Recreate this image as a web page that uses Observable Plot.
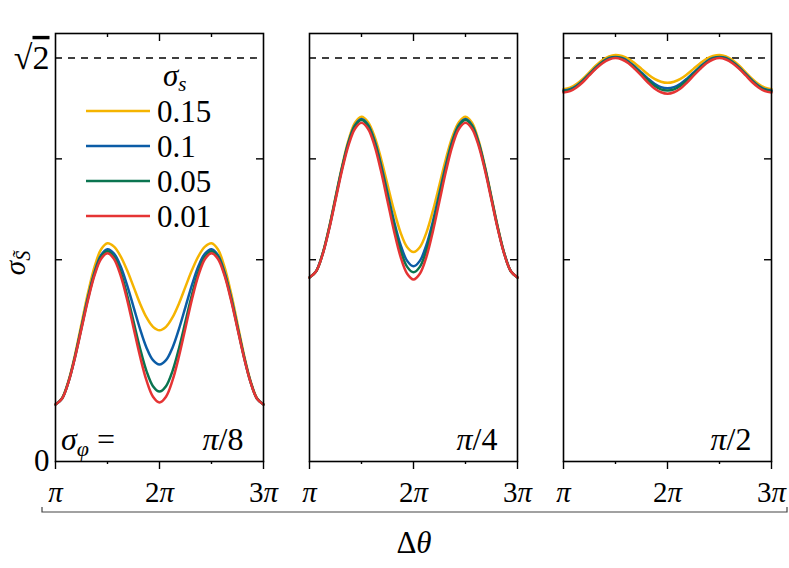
<!DOCTYPE html>
<html><head><meta charset="utf-8">
<script src="https://cdn.jsdelivr.net/npm/d3@7"></script>
<script src="https://cdn.jsdelivr.net/npm/@observablehq/plot@0.6"></script>
<style>body{margin:0;background:#fff} svg{display:block}</style>
</head><body><div id="chart"></div>
<script>
const SQRT2 = Math.SQRT2;
const panels = ["π/8", "π/4", "π/2"];
const seriesNames = ["0.15", "0.1", "0.05", "0.01"];
const seriesColors = ["#F5B400", "#0B5CA6", "#0A7450", "#E53434"];
// Δθ in units of π
const xSamples = [1, 1.0625, 1.125, 1.1875, 1.25, 1.3125, 1.375, 1.4375, 1.5, 1.5625, 1.625, 1.6875, 1.75, 1.8125, 1.875, 1.9375,
  2, 2.0625, 2.125, 2.1875, 2.25, 2.3125, 2.375, 2.4375, 2.5, 2.5625, 2.625, 2.6875, 2.75, 2.8125, 2.875, 2.9375, 3];
const xTicks = [1, 2, 3];
const xTickLabels = ["π", "2π", "3π"];
const xMinorTicks = [1.5, 2.5];
const yTickValues = [0, SQRT2];
const yTickLabels = ["0", "√2"];
const yInnerTicks = [SQRT2 / 2, 3 * SQRT2 / 4];

// σφ = π/8
const p8_015 = [0.200,0.222,0.283,0.374,0.483,0.591,0.682,0.743,0.765,0.753,0.720,0.671,0.613,0.554,0.505,0.472,0.460,0.472,0.505,0.554,0.613,0.671,0.720,0.753,0.765,0.743,0.682,0.591,0.483,0.374,0.283,0.222,0.200];
const p8_010 = [0.200,0.221,0.280,0.368,0.472,0.576,0.664,0.723,0.744,0.729,0.685,0.619,0.542,0.465,0.399,0.355,0.340,0.355,0.399,0.465,0.542,0.619,0.685,0.729,0.744,0.723,0.664,0.576,0.472,0.368,0.280,0.221,0.200];
const p8_005 = [0.200,0.220,0.279,0.366,0.469,0.571,0.658,0.717,0.737,0.718,0.665,0.585,0.491,0.397,0.317,0.264,0.245,0.264,0.317,0.397,0.491,0.585,0.665,0.718,0.737,0.717,0.658,0.571,0.469,0.366,0.279,0.220,0.200];
const p8_001 = [0.200,0.220,0.278,0.364,0.465,0.566,0.652,0.710,0.730,0.710,0.653,0.569,0.469,0.369,0.284,0.227,0.207,0.227,0.284,0.369,0.469,0.569,0.653,0.710,0.730,0.710,0.652,0.566,0.465,0.364,0.278,0.220,0.200];
// σφ = π/4
const p4_015 = [0.645,0.666,0.727,0.819,0.927,1.034,1.126,1.187,1.208,1.190,1.139,1.062,0.971,0.880,0.803,0.752,0.734,0.752,0.803,0.880,0.971,1.062,1.139,1.190,1.208,1.187,1.126,1.034,0.927,0.819,0.727,0.666,0.645];
const p4_010 = [0.645,0.666,0.726,0.816,0.923,1.029,1.119,1.179,1.200,1.180,1.125,1.041,0.942,0.843,0.760,0.704,0.684,0.704,0.760,0.843,0.942,1.041,1.125,1.180,1.200,1.179,1.119,1.029,0.923,0.816,0.726,0.666,0.645];
const p4_005 = [0.645,0.666,0.726,0.815,0.921,1.027,1.116,1.176,1.197,1.177,1.119,1.032,0.930,0.828,0.741,0.683,0.663,0.683,0.741,0.828,0.930,1.032,1.119,1.177,1.197,1.176,1.116,1.027,0.921,0.815,0.726,0.666,0.645];
const p4_001 = [0.645,0.666,0.724,0.812,0.916,1.020,1.108,1.166,1.187,1.166,1.107,1.018,0.913,0.808,0.718,0.659,0.638,0.659,0.718,0.808,0.913,1.018,1.107,1.166,1.187,1.166,1.108,1.020,0.916,0.812,0.724,0.666,0.645];
// σφ = π/2
const p2_015 = [1.305,1.310,1.323,1.342,1.365,1.388,1.407,1.420,1.425,1.421,1.411,1.395,1.376,1.357,1.341,1.331,1.327,1.331,1.341,1.357,1.376,1.395,1.411,1.421,1.425,1.420,1.407,1.388,1.365,1.342,1.323,1.310,1.305];
const p2_010 = [1.300,1.305,1.317,1.336,1.359,1.382,1.401,1.414,1.418,1.414,1.402,1.384,1.363,1.342,1.324,1.312,1.308,1.312,1.324,1.342,1.363,1.384,1.402,1.414,1.418,1.414,1.401,1.382,1.359,1.336,1.317,1.305,1.300];
const p2_005 = [1.297,1.302,1.314,1.334,1.357,1.379,1.399,1.412,1.416,1.412,1.399,1.380,1.358,1.336,1.317,1.304,1.300,1.304,1.317,1.336,1.358,1.380,1.399,1.412,1.416,1.412,1.399,1.379,1.357,1.334,1.314,1.302,1.297];
const p2_001 = [1.293,1.298,1.311,1.330,1.354,1.377,1.396,1.409,1.414,1.409,1.396,1.375,1.352,1.328,1.307,1.294,1.289,1.294,1.307,1.328,1.352,1.375,1.396,1.409,1.414,1.409,1.396,1.377,1.354,1.330,1.311,1.298,1.293];

const table = {
  "π/8": [p8_015, p8_010, p8_005, p8_001],
  "π/4": [p4_015, p4_010, p4_005, p4_001],
  "π/2": [p2_015, p2_010, p2_005, p2_001]
};
const rows = [];
for (const panel of panels) {
  table[panel].forEach((vals, s) => {
    vals.forEach((v, i) => rows.push({panel, series: seriesNames[s], x: xSamples[i], y: v}));
  });
}

const FONT = "Liberation Serif, DejaVu Serif, serif";
const plot = Plot.plot({
  width: 789, height: 568,
  marginLeft: 54, marginRight: 18, marginTop: 33, marginBottom: 107,
  style: {fontFamily: FONT, fontSize: "29px", color: "black", background: "white", overflow: "visible"},
  fx: {domain: panels, paddingInner: 0.1827, paddingOuter: 0, axis: null},
  x: {domain: [1, 3]},
  y: {domain: [0, 1.5]},
  color: {domain: seriesNames, range: seriesColors},
  marks: [
    Plot.ruleY([SQRT2], {stroke: "black", strokeWidth: 1.4, strokeDasharray: "7,6"}),
    Plot.line(rows, {x: "x", y: "y", z: "series", stroke: "series", fx: "panel", curve: "catmull-rom", strokeWidth: 2.5}),
    Plot.frame({stroke: "black", strokeWidth: 1.6}),
    Plot.axisX(xTicks, {label: null, tickSize: 8, tickPadding: 12, strokeWidth: 1.4, tickFormat: d => xTickLabels[xTicks.indexOf(d)], fontSize: 29}),
    Plot.axisX(xMinorTicks, {label: null, tickSize: 3, strokeWidth: 1.4, tickFormat: () => ""}),
    Plot.tickX([2], {x: d => d, insetBottom: 420, strokeWidth: 1.4}),
    Plot.tickX(xMinorTicks, {x: d => d, insetBottom: 424, strokeWidth: 1.4}),
    Plot.tickY(yInnerTicks, {y: d => d, insetRight: 201, strokeWidth: 1.4}),
    Plot.tickY(yInnerTicks, {y: d => d, insetLeft: 201, strokeWidth: 1.4}),
    Plot.axisY(yTickValues, {label: null, tickSize: 0, tickPadding: 6, tickFormat: d => yTickLabels[yTickValues.indexOf(d)], fontSize: 31}),
    Plot.text(panels, {fx: d => d, text: d => d, frameAnchor: "bottom-right", dx: -20, dy: -22, lineAnchor: "middle", fontSize: 32, fill: "black"})
  ]
});
document.getElementById("chart").append(plot);

const svg = d3.select(plot);
// italic π in labels
svg.selectAll("text").each(function() {
  const t = this.textContent;
  if (!t.includes("π")) return;
  const el = d3.select(this);
  el.text("");
  for (const ch of t) {
    el.append("tspan").attr("font-style", ch === "π" ? "italic" : null).text(ch);
  }
});
// √2 with vinculum
svg.selectAll("text").each(function() {
  if (this.textContent !== "√2") return;
  const el = d3.select(this);
  el.text("");
  el.attr("font-size", 34);
  el.append("tspan").text("√");
  el.append("tspan").attr("text-decoration", "overline").text("2");
});

// legend (inside first panel)
const g = svg.append("g").attr("font-family", FONT).attr("fill", "black").attr("text-anchor", "start");
const lt = g.append("text").attr("x", 163).attr("y", 86).attr("font-size", 31);
lt.append("tspan").attr("font-style", "italic").text("σ");
lt.append("tspan").attr("font-style", "italic").attr("font-size", 21).attr("dy", 5).text("s");
seriesNames.forEach((name, i) => {
  const yy = 111 + 35 * i;
  g.append("line").attr("x1", 86).attr("x2", 150).attr("y1", yy).attr("y2", yy)
    .attr("stroke", seriesColors[i]).attr("stroke-width", 2.6);
  g.append("text").attr("x", 157).attr("y", yy + 11).attr("font-size", 31).text(name);
});
// σφ =
const sp = g.append("text").attr("x", 61).attr("y", 450).attr("font-size", 32);
sp.append("tspan").attr("font-style", "italic").text("σ");
sp.append("tspan").attr("font-style", "italic").attr("font-size", 22).attr("dy", 6).text("φ");
sp.append("tspan").attr("dy", -6).text(" =");
// y label
const yl = g.append("text").attr("transform", "translate(25,263) rotate(-90)").attr("text-anchor", "middle").attr("font-size", 29);
yl.append("tspan").attr("font-style", "italic").text("σ");
yl.append("tspan").attr("font-style", "italic").attr("font-size", 20).attr("dy", 5).text("S\u0303");
// bracket + x label
g.append("path").attr("d", "M42,507V512H787V507").attr("fill", "none").attr("stroke", "#444").attr("stroke-width", 1.2);
const xl = g.append("text").attr("x", 414).attr("y", 553).attr("text-anchor", "middle").attr("font-size", 31);
xl.append("tspan").text("Δ");
xl.append("tspan").attr("font-style", "italic").text("θ");
</script>
</body></html>
